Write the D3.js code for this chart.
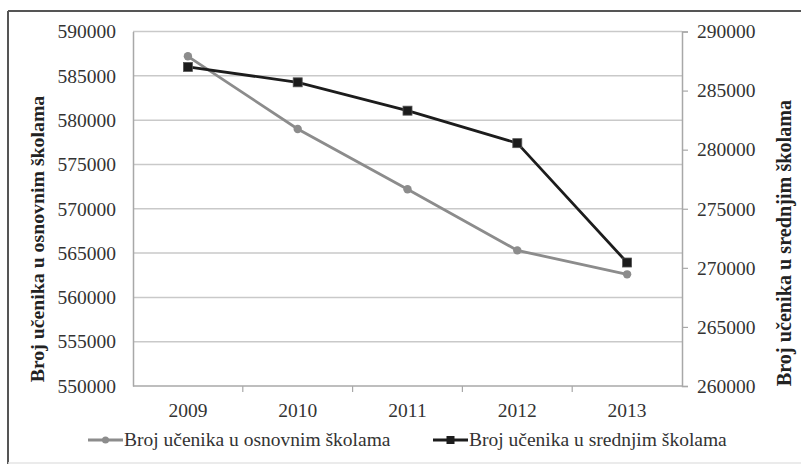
<!DOCTYPE html>
<html><head><meta charset="utf-8">
<script src="https://cdn.jsdelivr.net/npm/d3@7"></script>
<style>body{margin:0;background:#fff}svg{display:block}text{font-family:"Liberation Serif","Times New Roman",serif}</style>
</head><body><svg id="c" width="802" height="469"></svg>
<script>
const years = ["2009","2010","2011","2012","2013"];
const osnovne = [587200, 579000, 572200, 565300, 562600];
const srednje = [287000, 285700, 283300, 280550, 270450];
const leftTicks = [550000,555000,560000,565000,570000,575000,580000,585000,590000];
const rightTicks = [260000,265000,270000,275000,280000,285000,290000];
const leftTitle = "Broj učenika u osnovnim školama";
const rightTitle = "Broj učenika u srednjim školama";

const svg = d3.select("#c");
const L=133, R=682, T=31.5, B=386;
const x = d3.scaleBand().domain(years).range([L,R]);
const yL = d3.scaleLinear().domain([550000,590000]).range([B,T]);
const yR = d3.scaleLinear().domain([260000,290000]).range([B,T]);
const txt="#333";
const fs="19.5px";

// frame
svg.append("line").attr("x1",8).attr("y1",11).attr("x2",801).attr("y2",11).attr("stroke","#555").attr("stroke-width",2);
svg.append("line").attr("x1",8).attr("y1",11).attr("x2",8).attr("y2",464).attr("stroke","#555").attr("stroke-width",2);
svg.append("line").attr("x1",8).attr("y1",463).attr("x2",801).attr("y2",463).attr("stroke","#e4e4e4").attr("stroke-width",1.5);

// gridlines
svg.append("g").selectAll("line").data(leftTicks.slice(1)).join("line")
  .attr("x1",L).attr("x2",R).attr("y1",d=>yL(d)).attr("y2",d=>yL(d))
  .attr("stroke","#c9c9c9").attr("stroke-width",1.5);

// left axis
const gl = svg.append("g").attr("transform",`translate(${L},0)`)
  .call(d3.axisLeft(yL).tickValues(leftTicks).tickSize(0).tickPadding(17).tickFormat(d3.format("d")));
gl.select(".domain").attr("stroke","#a8a8a8").attr("stroke-width",1.5);
gl.selectAll("text").attr("font-size",fs).attr("fill",txt);

// right axis
const gr = svg.append("g").attr("transform",`translate(${R},0)`)
  .call(d3.axisRight(yR).tickValues(rightTicks).tickSize(6).tickPadding(9).tickFormat(d3.format("d")));
gr.select(".domain").attr("stroke","#a8a8a8").attr("stroke-width",1.5);
gr.selectAll("line").attr("stroke","#a8a8a8").attr("stroke-width",1.2);
gr.selectAll("text").attr("font-size",fs).attr("fill",txt);

// bottom axis
svg.append("line").attr("x1",L).attr("x2",R).attr("y1",B).attr("y2",B).attr("stroke","#a8a8a8").attr("stroke-width",1.5);
const bounds = years.slice(1).map(y=>x(y));
svg.append("g").selectAll("line").data(bounds).join("line")
  .attr("x1",d=>d).attr("x2",d=>d).attr("y1",B).attr("y2",B+6).attr("stroke","#a8a8a8").attr("stroke-width",1.2);
svg.append("g").selectAll("text").data(years).join("text")
  .attr("x",d=>x(d)+x.bandwidth()/2).attr("y",417).attr("text-anchor","middle")
  .attr("font-size",fs).attr("fill",txt).text(d=>d);

// axis titles
svg.append("text").attr("transform","translate(44,239) rotate(-90)").attr("text-anchor","middle")
  .attr("font-size","19.8px").attr("font-weight","bold").attr("fill","#222").text(leftTitle);
svg.append("text").attr("transform","translate(791,243) rotate(-90)").attr("text-anchor","middle")
  .attr("font-size","20.2px").attr("font-weight","bold").attr("fill","#222").text(rightTitle);

const cx = d=>x(d)+x.bandwidth()/2;
const c1="#8c8c8c", c2="#1c1c1c";
svg.append("path").datum(years.map((y,i)=>[cx(y),yL(osnovne[i])]))
  .attr("d",d3.line()).attr("fill","none").attr("stroke",c1).attr("stroke-width",2.8);
svg.append("g").selectAll("circle").data(years).join("circle")
  .attr("cx",d=>cx(d)).attr("cy",(d,i)=>yL(osnovne[i])).attr("r",4.2).attr("fill",c1);
svg.append("path").datum(years.map((y,i)=>[cx(y),yR(srednje[i])]))
  .attr("d",d3.line()).attr("fill","none").attr("stroke",c2).attr("stroke-width",2.8);
svg.append("g").selectAll("rect").data(years).join("rect")
  .attr("x",d=>cx(d)-4.5).attr("y",(d,i)=>yR(srednje[i])-4.5).attr("width",9).attr("height",9)
  .attr("fill",c2).attr("stroke","#555").attr("stroke-width",0.8);

// legend
const ly=440;
svg.append("line").attr("x1",88).attr("x2",123).attr("y1",ly).attr("y2",ly).attr("stroke",c1).attr("stroke-width",2.8);
svg.append("circle").attr("cx",105.5).attr("cy",ly).attr("r",3.5).attr("fill",c1);
svg.append("text").attr("x",124).attr("y",ly+6).attr("font-size",fs).attr("fill",txt).text(leftTitle);
svg.append("line").attr("x1",433).attr("x2",468).attr("y1",ly).attr("y2",ly).attr("stroke",c2).attr("stroke-width",2.8);
svg.append("rect").attr("x",446.5).attr("y",ly-4).attr("width",8).attr("height",8).attr("fill",c2);
svg.append("text").attr("x",469).attr("y",ly+6).attr("font-size",fs).attr("fill",txt).text(rightTitle);
</script></body></html>
